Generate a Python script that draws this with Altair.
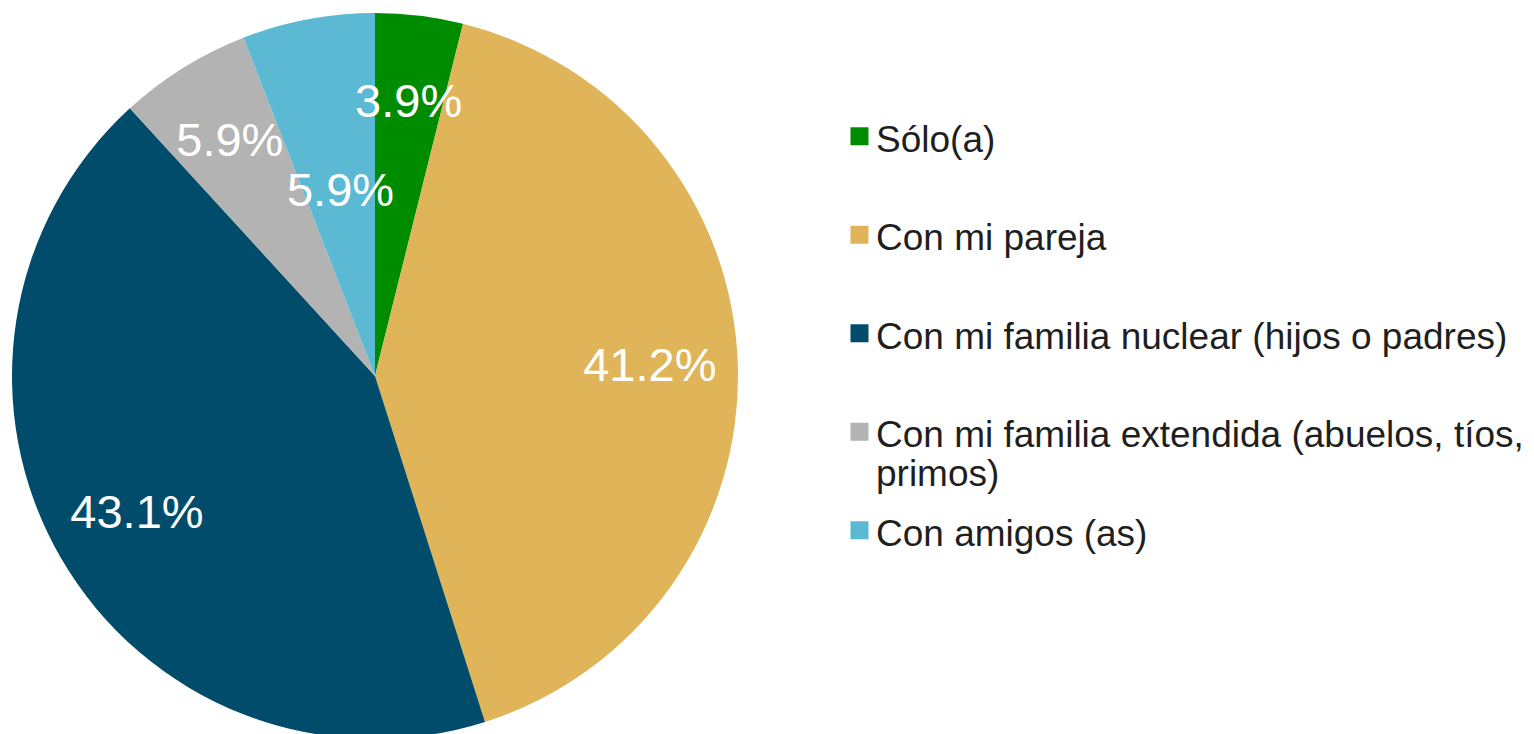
import altair as alt
import pandas as pd

categories = [
    "Sólo(a)",
    "Con mi pareja",
    "Con mi familia nuclear (hijos o padres)",
    "Con mi familia extendida (abuelos, tíos, primos)",
    "Con amigos (as)",
]
values = [3.9, 41.2, 43.1, 5.9, 5.9]
colors = ["#008C00", "#E0B55A", "#014C6A", "#B3B3B3", "#5CB9D3"]

df = pd.DataFrame({"category": categories, "value": values, "order": list(range(len(categories)))})

wrapped = "Con mi familia extendida (abuelos, tíos, primos)"
label_expr = (
    f"datum.label == '{wrapped}' ? "
    "['Con mi familia extendida (abuelos, tíos,', 'primos)'] : datum.label"
)

color = alt.Color(
    "category:N",
    scale=alt.Scale(domain=categories, range=colors),
    legend=alt.Legend(
        title=None,
        orient="none",
        legendX=831,
        legendY=96,
        symbolType="M-0.78,0.53H1.22V2.53H-0.78Z",
        symbolSize=324,
        symbolStrokeWidth=0,
        labelFontSize=37,
        labelFont="Liberation Sans",
        labelColor="#1f1f1f",
        labelLimit=900,
        labelOffset=0,
        labelBaseline="top",
        rowPadding=4.5,
        gridAlign="all",
        labelExpr=label_expr,
    ),
)

base = alt.Chart(df).transform_calculate(
    label="format(datum.value, '.1f') + '%'"
).encode(
    theta=alt.Theta("value:Q", stack=True),
    order=alt.Order("order:Q"),
)

pie = base.mark_arc(outerRadius=363, strokeWidth=0).encode(color=color)

is_inner = alt.datum.category == "Con amigos (as)"

text_outer = base.mark_text(
    radius=275, fontSize=47, font="Liberation Sans", align="center", baseline="middle"
).encode(
    text="label:N",
    color=alt.value("white"),
    opacity=alt.condition(is_inner, alt.value(0), alt.value(1)),
)

text_inner = base.mark_text(
    radius=187, fontSize=47, font="Liberation Sans", align="center", baseline="middle"
).encode(
    text="label:N",
    color=alt.value("white"),
    opacity=alt.condition(is_inner, alt.value(1), alt.value(0)),
)

chart = alt.layer(pie, text_outer, text_inner).properties(
    width=734,
    height=736,
    autosize="none",
    padding={"left": 0, "top": 0, "right": 784, "bottom": 0},
).configure_view(stroke=None)

chart.save("out.html", embed_options={"renderer": "svg", "actions": False})
